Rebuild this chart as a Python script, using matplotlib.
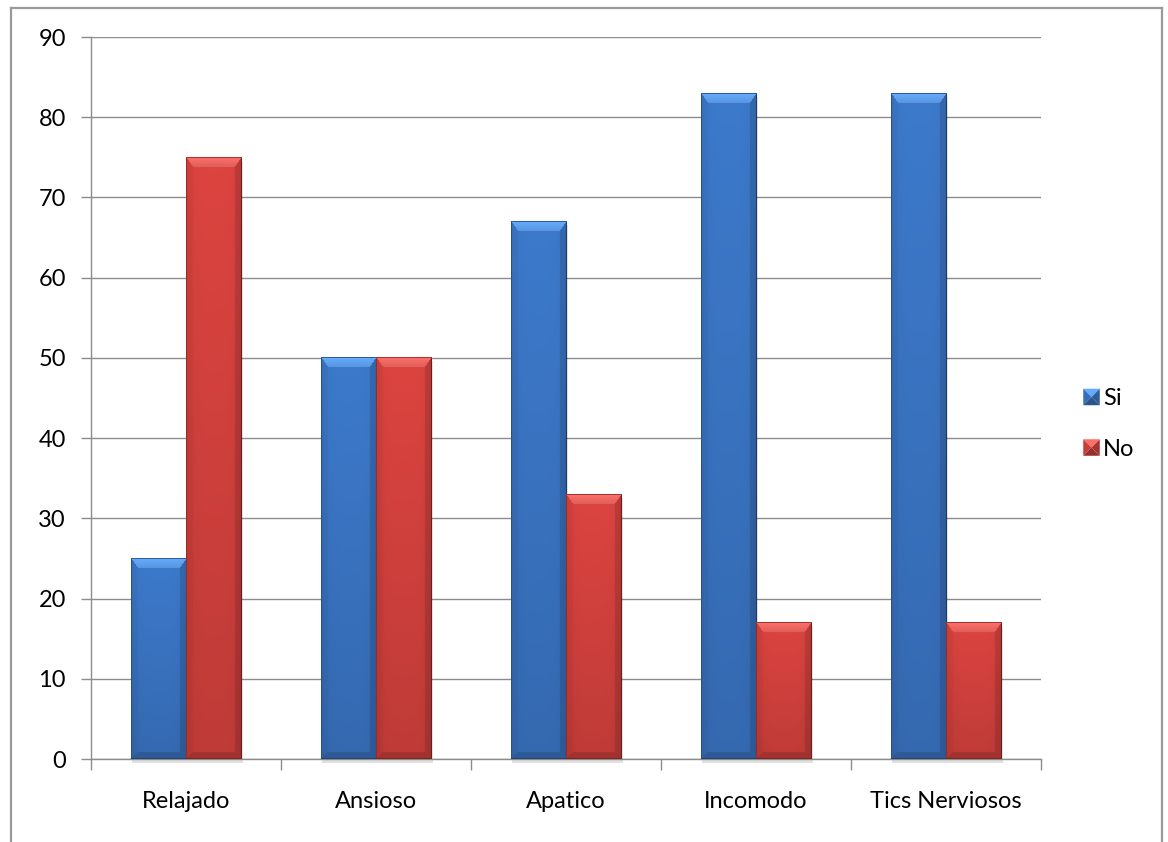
import numpy as np
import matplotlib
matplotlib.use("Agg")
import matplotlib.pyplot as plt
from matplotlib.patches import Polygon, Rectangle
from matplotlib.legend_handler import HandlerPatch
from matplotlib.lines import Line2D
from matplotlib.colors import to_rgb

categories = ["Relajado", "Ansioso", "Apatico", "Incomodo", "Tics Nerviosos"]
si_values = [25, 50, 67, 83, 83]
no_values = [75, 50, 33, 17, 17]
series_names = ["Si", "No"]
y_ticks = [0, 10, 20, 30, 40, 50, 60, 70, 80, 90]

BLUE = "#3a74c2"
RED = "#d2413d"
GRID = "#8c8c8c"
FS = 17

plt.rcParams["font.family"] = ["Lato", "DejaVu Sans"]

W, H = 1168, 842
fig = plt.figure(figsize=(W / 100, H / 100), dpi=100)
ax = fig.add_axes([91 / W, (H - 759) / H, (1041 - 91) / W, (759 - 37) / H])

x = np.arange(len(categories))
bw = 0.29
bars_si = ax.bar(x - bw / 2, si_values, bw, color=BLUE, label=series_names[0], zorder=3)
bars_no = ax.bar(x + bw / 2, no_values, bw, color=RED, label=series_names[1], zorder=3)

ax.set_xlim(-0.5, len(categories) - 0.5)
ax.set_ylim(0, 90)
ax.set_yticks(y_ticks)
ax.set_xticks(x)
ax.set_xticklabels(categories)
ax.set_xticks(np.arange(-0.5, len(categories), 1.0), minor=True)

ax.yaxis.grid(True, color=GRID, lw=1.0, zorder=0)
ax.set_axisbelow(True)
for s in ["top", "right"]:
    ax.spines[s].set_visible(False)
for s in ["left", "bottom"]:
    ax.spines[s].set_color(GRID)
    ax.spines[s].set_linewidth(1.0)
ax.tick_params(axis="y", length=7, color=GRID, width=1.0, labelsize=FS, pad=11)
ax.tick_params(axis="x", which="major", length=0, labelsize=FS, pad=23)
ax.tick_params(axis="x", which="minor", length=8, color=GRID, width=1.0)

fig.canvas.draw()


def bevel_image(bar, base):
    """Beveled, shaded fill for one bar, built in screen pixels."""
    bb = bar.get_window_extent()
    wpx = max(int(round(bb.width)), 2)
    hpx = max(int(round(bb.height)), 2)
    base = np.array(to_rgb(base))
    jj, ii = np.meshgrid(np.arange(wpx), np.arange(hpx))
    t = ii / max(hpx - 1, 1)
    u = jj / max(wpx - 1, 1)
    # body: lighter at the top, darker toward the bottom, soft side falloff
    f = 1.05 - 0.14 * t
    f = f * (1 - 0.06 * (np.abs(u - 0.5) * 2) ** 4)
    img = base[None, None, :] * f[..., None]
    bt, bs = 10, 7
    dl, dr, dt, db = jj, wpx - 1 - jj, ii, hpx - 1 - ii
    # top bevel: trapezoid with mitred corners
    top = (dt < bt) & (dt <= dl * bt / bs) & (dt <= dr * bt / bs)
    bottom = (db < bs) & (db <= dl) & (db <= dr) & ~top
    left = (dl < bs) & ~top & ~bottom
    right = (dr < bs) & ~top & ~bottom & ~left
    light = np.clip(base * 1.22 + 0.12, 0, 1)
    # top facet brighter near the upper edge
    tf = (1.0 - dt / bt)[..., None]
    topcol = light[None, None, :] * (0.86 + 0.14 * tf)
    img[top] = topcol[top]
    img[bottom] = base * 0.78
    img[left] = img[left] * 0.97
    img[right] = img[right] * 0.88
    # dark outline, strongest on the right
    img[dr < 1] = base * 0.5
    img[dl < 1] = base * 0.7
    img[dt < 1] = base * 0.8
    img[db < 1] = base * 0.6
    return np.clip(img, 0, 1)


for bars, col in [(bars_si, BLUE), (bars_no, RED)]:
    for bar in bars:
        x0, y0 = bar.get_x(), bar.get_y()
        w, h = bar.get_width(), bar.get_height()
        img = bevel_image(bar, col)
        ax.imshow(img, extent=(x0, x0 + w, y0, y0 + h), aspect="auto",
                  zorder=4, interpolation="bilinear")
        # faint drop shadow under the bar
        ax.add_patch(Rectangle((x0 + 0.008, y0 - 0.45), w, h, facecolor="#000000",
                               alpha=0.12, lw=0, zorder=2, clip_on=False))
        bar.set_visible(False)

ax.set_xlim(-0.5, len(categories) - 0.5)
ax.set_ylim(0, 90)


class PyramidHandler(HandlerPatch):
    def create_artists(self, legend, orig_handle, xdescent, ydescent,
                       width, height, fontsize, trans):
        base = np.array(to_rgb(orig_handle.get_facecolor()))
        s = min(width, height)
        x0 = -xdescent + (width - s) / 2
        y0 = -ydescent + (height - s) / 2
        cx, cy = x0 + s / 2, y0 + s / 2
        c = [(x0, y0), (x0 + s, y0), (x0 + s, y0 + s), (x0, y0 + s)]
        faces = [
            ([c[3], c[2], (cx, cy)], np.clip(base * 1.22 + 0.12, 0, 1)),
            ([c[0], c[3], (cx, cy)], base * 0.95),
            ([c[1], c[2], (cx, cy)], base * 0.8),
            ([c[0], c[1], (cx, cy)], base * 0.72),
        ]
        return [Polygon(pts, closed=True, facecolor=fc, edgecolor="none",
                        transform=trans) for pts, fc in faces]


handles = [Rectangle((0, 0), 1, 1, facecolor=BLUE), Rectangle((0, 0), 1, 1, facecolor=RED)]
leg = fig.legend(handles, series_names, loc="center left",
                 bbox_to_anchor=(1062 / W, 1 - 424 / H), frameon=False,
                 fontsize=FS, handlelength=0.7, handleheight=0.7,
                 handletextpad=0.15, labelspacing=1.25,
                 handler_map={Rectangle: PyramidHandler()})

# chart-area border (left, top, right)
bc = "#9a9a9a"
for xs, ys in [([11, 11], [H + 5, 8]), ([11, 1162], [8, 8]), ([1162, 1162], [8, H + 5])]:
    fig.add_artist(Line2D([v / W for v in xs], [1 - v / H for v in ys], color=bc,
                          lw=1.6, transform=fig.transFigure))

fig.savefig("out.png", dpi=100)
